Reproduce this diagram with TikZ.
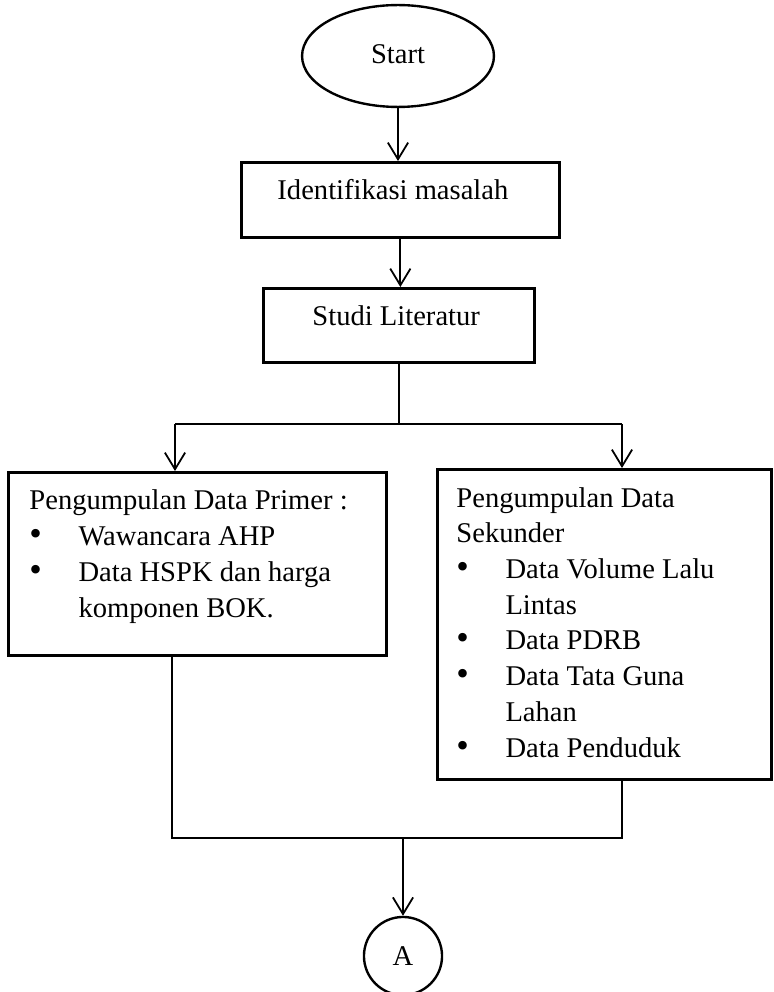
\documentclass[tikz,border=0pt]{standalone}
\usepackage{fontspec}
\setmainfont{Liberation Serif}
\usepackage{tikz}
\usetikzlibrary{shapes,arrows.meta,positioning}

\newcommand{\butir}{\makebox[20.6pt][l]{\fontsize{15}{15}\selectfont\textbullet}}
\newcommand{\lanjut}{\makebox[20.6pt][l]{}}

\tikzset{
    blok/.style={draw, rectangle, line width=1.1pt, anchor=north west, inner sep=0pt},
    isi/.style={anchor=base west, inner sep=0pt, align=left, font=\fontsize{12}{15}\selectfont},
    panah/.style={line width=0.75pt, -{Straight Barb[length=7pt,width=8.5pt]}},
    garis/.style={line width=0.75pt}
}

\begin{document}
\begin{tikzpicture}[x=0.42pt, y=-0.42pt]
                \useasboundingbox (0,0) rectangle (774,992);

                \node[
                    draw,
                    ellipse,
                    line width=1pt,
                    minimum width=80.6pt,
                    minimum height=42.8pt,
                    font=\fontsize{12}{15}\selectfont
                ] (start) at (398,56) {\raisebox{2pt}{Start}};

                \node[blok, minimum width=133.6pt, minimum height=31.5pt] (idm) at (240,161) {};
                \node[isi] (tIdm) at (277,200) {Identifikasi masalah};

                \node[blok, minimum width=113.8pt, minimum height=31.1pt] (studi) at (262,287) {};
                \node[isi] (tStudi) at (312,325) {Studi Literatur};

                \node[blok, minimum width=158.8pt, minimum height=76.9pt] (primer) at (7,471) {};
                \node[isi] (tPrimer) at (29,617) {Pengumpulan Data Primer :\\
                    \butir Wawancara AHP\\
                    \butir Data HSPK dan harga\\
                    \lanjut komponen BOK.};

                \node[blok, minimum width=140.3pt, minimum height=130.2pt] (sekunder) at (436,468) {};
                \node[isi] (tSekunder) at (456,757) {Pengumpulan Data\\
                    Sekunder\\
                    \butir Data Volume Lalu\\
                    \lanjut Lintas\\
                    \butir Data PDRB\\
                    \butir Data Tata Guna\\
                    \lanjut Lahan\\
                    \butir Data Penduduk};

                \node[
                    draw,
                    circle,
                    line width=1pt,
                    inner sep=0pt,
                    minimum size=32.8pt,
                    font=\fontsize{12}{15}\selectfont
                ] (a) at (403,956) {A};

                \coordinate (cabangKiri) at (175,424);
                \coordinate (cabangKanan) at (622,424);
                \coordinate (gabungKiri) at (172,838);
                \coordinate (gabungKanan) at (622,838);

                \draw[panah] (start.south) -- (start.south |- idm.north);
                \draw[panah] (idm.south) -- (idm.south |- studi.north);
                \draw[garis] (studi.south) -- (studi.south |- cabangKiri);
                \draw[garis] (cabangKiri) -- (cabangKanan);
                \draw[panah] (cabangKiri) -- (cabangKiri |- primer.north);
                \draw[panah] (cabangKanan) -- (cabangKanan |- sekunder.north);

                \draw[garis] (gabungKiri |- primer.south) -- (gabungKiri) -- (gabungKanan) -- (gabungKanan |- sekunder.south);
                \draw[panah] (a.north |- gabungKiri) -- (a.north);

             \end{tikzpicture}
\end{document}
